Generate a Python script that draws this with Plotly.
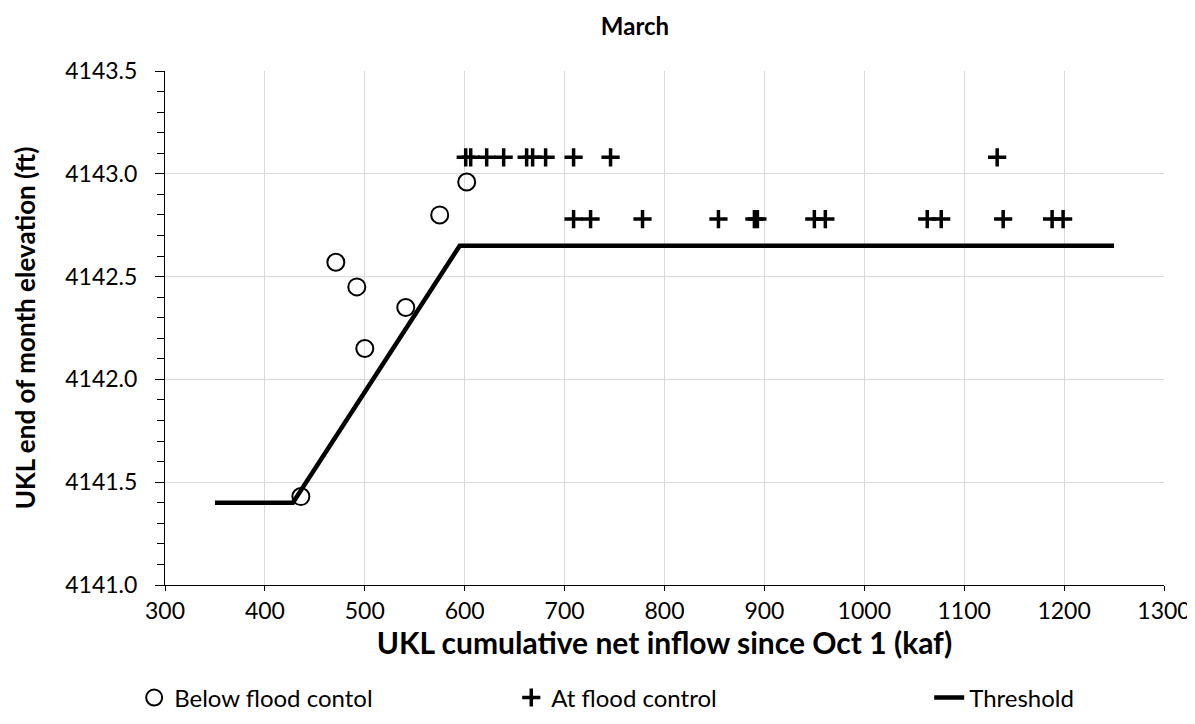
import plotly.graph_objects as go

# ---- data ----
below_x = [436, 471, 492, 500, 541, 575, 602]
below_y = [4141.43, 4142.57, 4142.45, 4142.15, 4142.35, 4142.80, 4142.96]

at_hi_x = [601, 606, 622, 639, 662, 668, 681, 709, 746, 1133]
at_hi_y = [4143.08] * len(at_hi_x)
at_lo_x = [709, 726, 778, 854, 890, 893, 950, 961, 1063, 1077, 1139, 1188, 1199]
at_lo_y = [4142.78] * len(at_lo_x)
at_x = at_hi_x + at_lo_x
at_y = at_hi_y + at_lo_y

thr_x = [350, 428, 595, 1250]
thr_y = [4141.4, 4141.4, 4142.65, 4142.65]

FONT = "Lato, 'Open Sans', sans-serif"
W, H = 1195, 724
ML, MR, MT, MB = 157, 34, 63, 133
PW, PH = W - ML - MR, H - MT - MB


def px_x(p):
    return (p - ML) / PW


def px_y(p):
    return (H - MB - p) / PH


fig = go.Figure()
fig.add_trace(go.Scatter(
    x=below_x, y=below_y, mode="markers", name="Below flood contol", legend="legend",
    marker=dict(symbol="circle-open", size=17, color="black", line=dict(width=2, color="black")),
))
fig.add_trace(go.Scatter(
    x=at_x, y=at_y, mode="markers", name="At flood control", legend="legend2",
    marker=dict(symbol="cross-thin-open", size=13, color="black", line=dict(width=3.5, color="black")),
))
fig.add_trace(go.Scatter(
    x=thr_x, y=thr_y, mode="lines", name="Threshold", legend="legend3",
    line=dict(color="black", width=4.5),
))

leg_common = dict(orientation="h", yanchor="middle", xanchor="left", y=px_y(707),
                  font=dict(size=24, family=FONT), itemsizing="trace",
                  bgcolor="rgba(0,0,0,0)")

fig.update_layout(
    width=W, height=H,
    paper_bgcolor="white", plot_bgcolor="white",
    margin=dict(l=ML, r=MR, t=MT, b=MB),
    font=dict(family=FONT, size=23, color="#000000"),
    title=dict(text="<b>March</b>", x=627 / W, xref="container", xanchor="center",
               y=1 - 19 / H, yanchor="middle", font=dict(size=24, family=FONT)),
    showlegend=True,
    legend=dict(x=px_x(126), **leg_common),
    legend2=dict(x=px_x(505), **leg_common),
    legend3=dict(x=px_x(925), **leg_common),
)

fig.update_xaxes(
    range=[300, 1300], dtick=100, tick0=300,
    showgrid=True, gridcolor="#d9d9d9", gridwidth=1,
    showline=True, linecolor="black", linewidth=1,
    ticks="outside", ticklen=5, tickcolor="black",
    tickfont=dict(size=23), zeroline=False,
    title=dict(text="<b>UKL cumulative net inflow since Oct 1 (kaf)</b>", font=dict(size=30), standoff=10),
)
fig.update_yaxes(
    range=[4141.0, 4143.5], dtick=0.5, tick0=4141.0, tickformat=".1f",
    showgrid=True, gridcolor="#d9d9d9", gridwidth=1,
    showline=True, linecolor="black", linewidth=1,
    ticks="outside", ticklen=9, tickcolor="black", ticklabelstandoff=13,
    minor=dict(dtick=0.1, ticks="outside", ticklen=7, tickcolor="black", showgrid=False),
    tickfont=dict(size=23), zeroline=False,
    title=dict(text="<b>UKL end of month elevation (ft)</b>", font=dict(size=26), standoff=22),
)

fig.write_html("out.html")
